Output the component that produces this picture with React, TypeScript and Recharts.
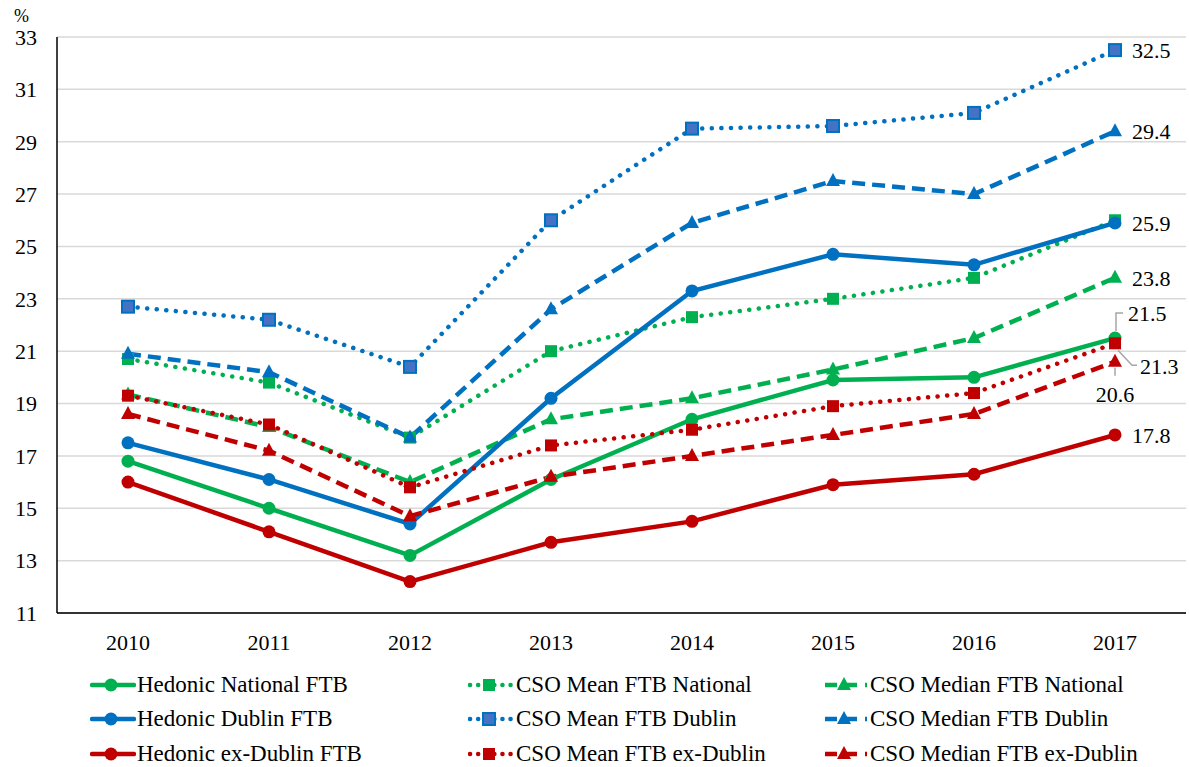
import React from "react";
import { CartesianGrid, LabelList, Line, LineChart, XAxis, YAxis } from "recharts";

const years = ["2010", "2011", "2012", "2013", "2014", "2015", "2016", "2017"];
const yTicks = [11, 13, 15, 17, 19, 21, 23, 25, 27, 29, 31, 33];

const hedonicNational = [16.8, 15.0, 13.2, 16.1, 18.4, 19.9, 20.0, 21.5];
const csoMeanNational = [20.7, 19.8, 17.7, 21.0, 22.3, 23.0, 23.8, 26.0];
const csoMedianNational = [19.35, 18.1, 16.0, 18.4, 19.2, 20.3, 21.5, 23.8];
const hedonicDublin = [17.5, 16.1, 14.4, 19.2, 23.3, 24.7, 24.3, 25.9];
const csoMeanDublin = [22.7, 22.2, 20.4, 26.0, 29.5, 29.6, 30.1, 32.5];
const csoMedianDublin = [20.9, 20.2, 17.7, 22.6, 25.9, 27.5, 27.0, 29.4];
const hedonicExDublin = [16.0, 14.1, 12.2, 13.7, 14.5, 15.9, 16.3, 17.8];
const csoMeanExDublin = [19.3, 18.2, 15.8, 17.4, 18.0, 18.9, 19.4, 21.3];
const csoMedianExDublin = [18.6, 17.2, 14.7, 16.2, 17.0, 17.8, 18.6, 20.6];

const GREEN = "#00B050";
const BLUE = "#0070C0";
const RED = "#C00000";
const FONT = "'Liberation Serif', 'Times New Roman', Tinos, 'DejaVu Serif', serif";
const FS = 22;

type Shape = "circle" | "square" | "triangle";
type Style = "solid" | "dotted" | "dashed";

const series = [
  { key: "hn", name: "Hedonic National FTB", values: hedonicNational, color: GREEN, fill: GREEN, shape: "circle", style: "solid", label: "upLeader" },
  { key: "mn", name: "CSO Mean FTB National", values: csoMeanNational, color: GREEN, fill: GREEN, shape: "square", style: "dotted", label: null },
  { key: "dn", name: "CSO Median FTB National", values: csoMedianNational, color: GREEN, fill: GREEN, shape: "triangle", style: "dashed", label: "right" },
  { key: "hd", name: "Hedonic Dublin FTB", values: hedonicDublin, color: BLUE, fill: BLUE, shape: "circle", style: "solid", label: "right" },
  { key: "md", name: "CSO Mean FTB Dublin", values: csoMeanDublin, color: BLUE, fill: "#4472C4", shape: "square", style: "dotted", label: "right" },
  { key: "dd", name: "CSO Median FTB Dublin", values: csoMedianDublin, color: BLUE, fill: BLUE, shape: "triangle", style: "dashed", label: "right" },
  { key: "hx", name: "Hedonic ex-Dublin FTB", values: hedonicExDublin, color: RED, fill: RED, shape: "circle", style: "solid", label: "right" },
  { key: "mx", name: "CSO Mean FTB ex-Dublin", values: csoMeanExDublin, color: RED, fill: RED, shape: "square", style: "dotted", label: "downLeader" },
  { key: "dx", name: "CSO Median FTB ex-Dublin", values: csoMedianExDublin, color: RED, fill: RED, shape: "triangle", style: "dashed", label: "below" },
];

const data = years.map((year, i) => {
  const row: Record<string, string | number> = { year };
  series.forEach((s) => (row[s.key] = s.values[i]));
  return row;
});

function marker(shape: Shape, cx: number, cy: number, fill: string, stroke: string, key?: string) {
  if (shape === "circle") return <circle key={key} cx={cx} cy={cy} r={6.5} fill={fill} />;
  if (shape === "square")
    return (
      <rect key={key} x={cx - 6} y={cy - 6} width={12} height={12} fill={fill}
        stroke={fill !== stroke ? stroke : "none"} strokeWidth={2} />
    );
  return <polygon key={key} points={`${cx},${cy - 8} ${cx + 7},${cy + 5} ${cx - 7},${cy + 5}`} fill={fill} />;
}

const dashFor = (style: Style) => (style === "dotted" ? "0.1 9.5" : style === "dashed" ? "13 7" : undefined);

function DataLabel(props: any, kind: string) {
  const { x, y, value, index } = props;
  if (index !== years.length - 1) return null;
  const text = Number(value).toFixed(1);
  const ts = { fontFamily: FONT, fontSize: FS, fill: "#000" };
  const lead = { stroke: "#A6A6A6", strokeWidth: 1.5, fill: "none" };
  if (kind === "upLeader")
    return (
      <g>
        <polyline points={`${x + 1},${y - 7} ${x + 1},${y - 25} ${x + 8},${y - 25}`} {...lead} />
        <text x={x + 13} y={y - 25} dy="0.35em" {...ts}>{text}</text>
      </g>
    );
  if (kind === "downLeader")
    return (
      <g>
        <polyline points={`${x + 3},${y + 7} ${x + 17},${y + 22} ${x + 22},${y + 22}`} {...lead} />
        <text x={x + 25} y={y + 23} dy="0.35em" {...ts}>{text}</text>
      </g>
    );
  if (kind === "below")
    return (
      <g>
        <line x1={x} y1={y + 6} x2={x} y2={y + 14} {...lead} />
        <text x={x} y={y + 33} dy="0.35em" textAnchor="middle" {...ts}>{text}</text>
      </g>
    );
  return <text x={x + 17} y={y} dy="0.35em" {...ts}>{text}</text>;
}

function LegendIcon({ s }: { s: (typeof series)[number] }) {
  return (
    <svg width={46} height={16} style={{ display: "block" }}>
      <line x1={2} y1={8} x2={44} y2={8} stroke={s.color} strokeWidth={4.5}
        strokeDasharray={s.style === "dotted" ? "0.1 8" : s.style === "dashed" ? "12 8" : undefined}
        strokeLinecap={s.style === "dashed" ? "butt" : "round"} />
      {marker(s.shape as Shape, 21, 8, s.fill, s.color)}
    </svg>
  );
}

const legendCols = [
  { icon: 90, text: 137 },
  { icon: 468, text: 516 },
  { icon: 823, text: 870 },
];
const legendRows = [685, 719, 754];

export default function App() {
  return (
    <div style={{ position: "absolute", left: 0, top: 0, width: 1189, height: 767, background: "#fff", fontFamily: FONT }}>
      <div style={{ position: "absolute", left: 14, top: 6, fontSize: 18, lineHeight: "20px" }}>%</div>
      <LineChart width={1189} height={660} data={data} margin={{ top: 37, right: 3, left: 0, bottom: 0 }}>
        <CartesianGrid vertical={false} stroke="#D9D9D9" strokeWidth={1.5} />
        <XAxis dataKey="year" height={47} tickSize={0} tickMargin={21} padding={{ left: 71, right: 71 }}
          axisLine={{ stroke: "#333", strokeWidth: 2 }}
          tick={{ fill: "#000", fontSize: FS, fontFamily: FONT }} />
        <YAxis width={57} domain={[11, 33]} ticks={yTicks} tickSize={0} tickMargin={20}
          axisLine={{ stroke: "#000", strokeWidth: 1.5 }} interval={0}
          tick={{ fill: "#000", fontSize: FS, fontFamily: FONT }} />
        {series.map((s) => (
          <Line key={s.key} dataKey={s.key} name={s.name} stroke={s.color} strokeWidth={4.5}
            strokeDasharray={dashFor(s.style as Style)}
            strokeLinecap={s.style === "dotted" ? "round" : "butt"}
            isAnimationActive={false}
            dot={(p: any) => marker(s.shape as Shape, p.cx, p.cy, s.fill, s.color, `${s.key}-${p.index}`)}
            activeDot={false}>
            {s.label && <LabelList dataKey={s.key} content={(p: any) => DataLabel(p, s.label as string)} />}
          </Line>
        ))}
      </LineChart>
      {series.map((s, i) => {
        const col = legendCols[i % 3];
        const row = legendRows[Math.floor(i / 3)];
        return (
          <React.Fragment key={s.key}>
            <div style={{ position: "absolute", left: col.icon, top: row - 8 }}>
              <LegendIcon s={s} />
            </div>
            <div style={{ position: "absolute", left: col.text, top: row - 14, fontSize: 23, lineHeight: "27px", whiteSpace: "nowrap" }}>
              {s.name}
            </div>
          </React.Fragment>
        );
      })}
    </div>
  );
}
